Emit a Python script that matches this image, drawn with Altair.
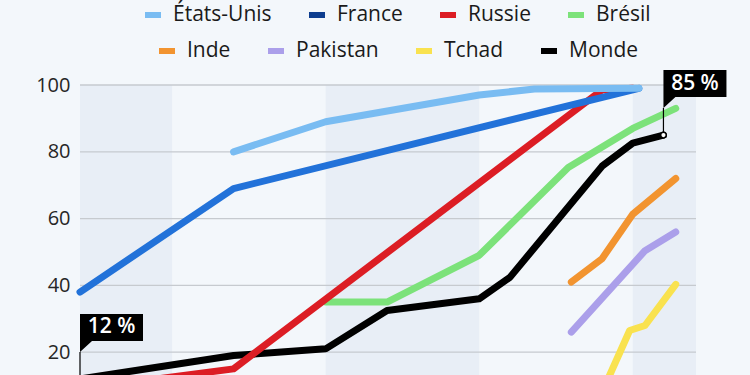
import altair as alt
import pandas as pd

# ---------------- data ----------------
series = ["États-Unis", "France", "Russie", "Brésil", "Inde", "Pakistan", "Tchad", "Monde"]
line_colors = ["#79bcf2", "#2272d9", "#dc1d24", "#7ce27a", "#f29430", "#ab9fea", "#f9e24f", "#000000"]
legend_colors = ["#79bcf2", "#0d3d8f", "#dc1d24", "#7ce27a", "#f29430", "#ab9fea", "#f9e24f", "#000000"]

us_years = [1870, 1900, 1950, 1968, 2002]
us_vals = [80, 89, 97, 98.8, 99]

fr_years = [1820, 1870, 2002]
fr_vals = [38, 69, 99]

ru_years = [1820, 1870, 1990, 2000]
ru_vals = [9, 15, 98.5, 99]

br_years = [1900, 1920, 1950, 1979, 2000, 2014]
br_vals = [35, 35, 49, 75.3, 87, 93]

in_years = [1980, 1990, 2000, 2014]
in_vals = [41, 48, 61.3, 72]

pk_years = [1980, 2004, 2014]
pk_vals = [26, 50.4, 56]

td_years = [1990, 1999, 2004, 2014]
td_vals = [8, 26.5, 28, 40.3]

wd_years = [1820, 1870, 1900, 1920, 1950, 1960, 1990, 2000, 2010]
wd_vals = [12, 19, 21, 32.5, 36, 42.4, 75.7, 82.6, 85]

all_years = [us_years, fr_years, ru_years, br_years, in_years, pk_years, td_years, wd_years]
all_vals = [us_vals, fr_vals, ru_vals, br_vals, in_vals, pk_vals, td_vals, wd_vals]

band_start = [1820, 1900, 2000]
band_end = [1850, 1950, 2020.6]

grid_values = [0, 20, 40, 60, 80, 100]
label_values = [20, 40, 60, 80, 100]

ann_years = [1820, 2010]
ann_vals = [12, 85]
ann_labels = ["12 %", "85 %"]

# ---------------- styling ----------------
BG = "#f3f7fb"
BAND = "#e8eef6"
GRID = "#c6cacf"
FONT = "Open Sans"

x_scale = alt.Scale(domain=[1820, 2020.6], nice=False, zero=False)
y_scale = alt.Scale(domain=[0, 100], nice=False, zero=True)

y_axis = alt.Axis(values=label_values, title=None, grid=False, ticks=False, domain=False,
                  labelFont=FONT, labelFontSize=20, labelColor="#262626", labelPadding=10)


def X(field="year"):
    return alt.X(f"{field}:Q", scale=x_scale, axis=None)


def Y(field="value"):
    return alt.Y(f"{field}:Q", scale=y_scale, axis=y_axis)


# long table for legend layers
rows = []
for name, ys, vs in zip(series, all_years, all_vals):
    for yr, v in zip(ys, vs):
        rows.append({"series": name, "year": yr, "value": v})
df = pd.DataFrame(rows)

band_df = pd.DataFrame({"start": band_start, "end": band_end})
bands = alt.Chart(band_df).mark_rect(color=BAND).encode(
    x=X("start"), x2="end:Q"
)

grid_df = pd.DataFrame({"value": grid_values})
grid = alt.Chart(grid_df).mark_rule(color=GRID, strokeWidth=1.3).encode(y=Y())

# lines, drawn in reverse order so États-Unis ends on top
lines = []
for name, col, ys, vs in reversed(list(zip(series, line_colors, all_years, all_vals))):
    d = pd.DataFrame({"year": ys, "value": vs})
    lines.append(
        alt.Chart(d).mark_line(color=col, strokeWidth=7, strokeCap="round", strokeJoin="round")
        .encode(x=X(), y=Y())
    )


def legend_layer(names, colors, lx, ly):
    return alt.Chart(df).transform_filter("datum.year < 0").mark_line(strokeWidth=6).encode(
        x=X(), y=Y(),
        color=alt.Color(
            "series:N",
            scale=alt.Scale(domain=names, range=colors),
            legend=alt.Legend(
                title=None, orient="none", legendX=lx, legendY=ly,
                direction="horizontal", columns=len(names),
                symbolType="stroke", symbolSize=256, symbolStrokeWidth=6,
                labelFont=FONT, labelFontSize=21, labelColor="#1a1a1a",
                labelOffset=9, columnPadding=25, padding=0, labelLimit=400,
            ),
        ),
    )


leg1 = legend_layer(series[:4], legend_colors[:4], 62, -81)
leg2 = legend_layer(series[4:], legend_colors[4:], 76, -45)

ann_df = pd.DataFrame({"year": ann_years, "value": ann_vals, "label": ann_labels})
FLAG = "M0,-65H63V-38H12L0,-27Z M-0.6,-27H0.6V0H-0.6Z"
flag = alt.Chart(ann_df).mark_point(
    shape=FLAG, size=4, filled=True, color="black", opacity=1, strokeWidth=0
).encode(x=X(), y=Y())
marker = alt.Chart(ann_df).mark_point(
    shape="circle", size=32, filled=True, fill="white", stroke="black", strokeWidth=1.5, opacity=1
).encode(x=X(), y=Y())
ann_text = alt.Chart(ann_df).mark_text(
    color="white", font=FONT, fontSize=21, fontWeight=600, align="center", baseline="middle",
    dx=31.5, dy=-51.5
).encode(x=X(), y=Y(), text="label:N")

chart = alt.layer(
    bands, grid, *lines, leg1, leg2, flag, marker, ann_text
).resolve_scale(color="independent").properties(
    width=616, height=334, background=BG,
    padding={"left": 80, "top": 85, "right": 54, "bottom": 45},
    autosize=alt.AutoSizeParams(type="none"),
).configure_view(stroke=None)

chart.save("out.html", embed_options={"renderer": "svg", "actions": False})
